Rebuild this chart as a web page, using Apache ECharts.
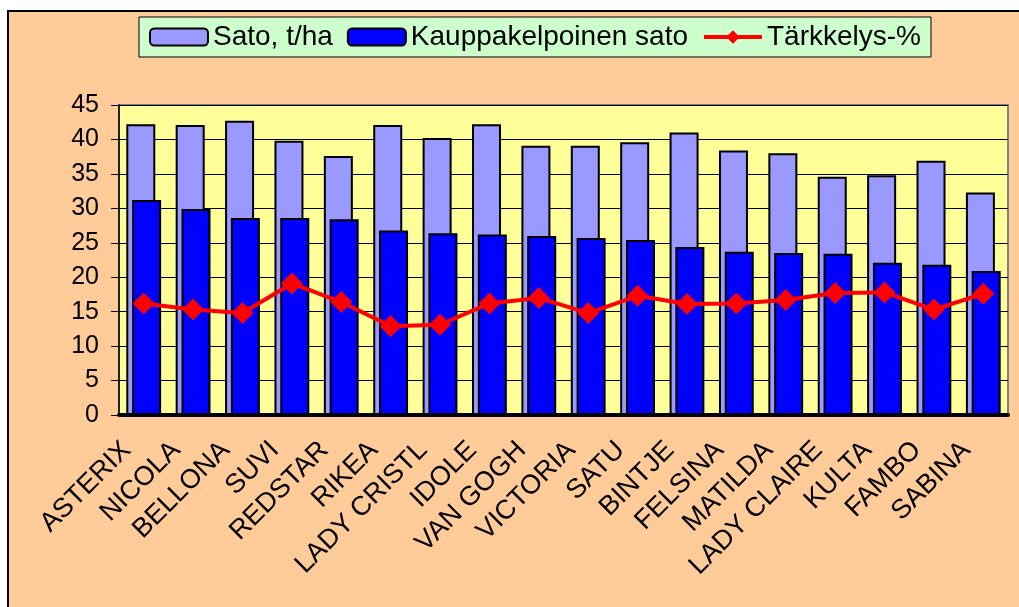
<!DOCTYPE html>
<html>
<head>
<meta charset="utf-8">
<script src="https://cdn.jsdelivr.net/npm/echarts@6/dist/echarts.min.js"></script>
<style>
  html, body { margin: 0; padding: 0; background: #fff; }
  #chart { width: 1019px; height: 607px; }
</style>
</head>
<body>
<div id="chart"></div>
<script>
var lajikkeet = ['ASTERIX', 'NICOLA', 'BELLONA', 'SUVI', 'REDSTAR', 'RIKEA', 'LADY CRISTL', 'IDOLE', 'VAN GOGH',
  'VICTORIA', 'SATU', 'BINTJE', 'FELSINA', 'MATILDA', 'LADY CLAIRE', 'KULTA', 'FAMBO', 'SABINA'];
var sato = [42.2, 42.1, 42.7, 39.8, 37.6, 42.1, 40.2, 42.2, 39.1, 39.1, 39.6, 41.0, 38.4, 38.0, 34.6, 34.8, 36.9, 32.3];
var kauppa = [31.2, 29.9, 28.6, 28.6, 28.4, 26.8, 26.4, 26.2, 26.0, 25.7, 25.4, 24.4, 23.7, 23.5, 23.4, 22.1, 21.8, 20.9];
var tarkkelys = [16.2, 15.3, 14.8, 19.1, 16.4, 12.9, 13.1, 16.2, 17.0, 14.8, 17.3, 16.1, 16.2, 16.7, 17.7, 17.8, 15.3, 17.6];
var yTicks = [0, 5, 10, 15, 20, 25, 30, 35, 40, 45];

var font = 'Liberation Sans, Arial, sans-serif';
var chart = echarts.init(document.getElementById('chart'));

var option = {
  backgroundColor: '#FFCC99',
  animation: false,
  graphic: [
    { type: 'rect', shape: { x: 0, y: 0, width: 1019, height: 11 }, style: { fill: '#fff' }, silent: true },
    { type: 'rect', shape: { x: 0, y: 0, width: 8, height: 607 }, style: { fill: '#fff' }, silent: true },
    { type: 'polyline', shape: { points: [[8, 607], [8, 11], [1019, 11]] }, style: { stroke: '#000', lineWidth: 2, fill: null }, silent: true }
  ],
  legend: {
    left: 139,
    top: 17,
    padding: [6, 10, 6, 10],
    itemGap: 14,
    itemWidth: 58,
    itemHeight: 17,
    backgroundColor: '#CCFFCC',
    borderColor: '#000',
    borderWidth: 1,
    textStyle: { fontFamily: font, fontSize: 28, color: '#000' },
    data: ['Sato, t/ha', 'Kauppakelpoinen sato', { name: 'Tärkkelys-%', lineStyle: { width: 4 } }]
  },
  grid: {
    left: 119,
    top: 105,
    width: 889,
    height: 310,
    show: true,
    backgroundColor: '#FFFF99',
    borderColor: '#808080',
    borderWidth: 2
  },
  xAxis: {
    type: 'category',
    data: lajikkeet,
    axisLine: { lineStyle: { color: '#000', width: 4 } },
    axisTick: { show: false },
    axisLabel: {
      interval: 0,
      rotate: 45,
      margin: 14,
      padding: [0, 24, 0, 0],
      fontFamily: font,
      fontSize: 27,
      color: '#000'
    }
  },
  yAxis: {
    type: 'value',
    min: yTicks[0],
    max: yTicks[yTicks.length - 1],
    interval: 5,
    axisLine: { show: true, lineStyle: { color: '#000', width: 1.5 } },
    axisTick: { show: true, length: 8, lineStyle: { color: '#000' } },
    axisLabel: { margin: 20, fontFamily: font, fontSize: 25, color: '#000' },
    splitLine: { lineStyle: { color: '#000', width: 1 } }
  },
  series: [
    {
      name: 'Sato, t/ha',
      type: 'bar',
      data: sato,
      barWidth: 29,
      barGap: '-80%',
      itemStyle: { color: '#9999FF', borderColor: '#000', borderWidth: 2 }
    },
    {
      name: 'Kauppakelpoinen sato',
      type: 'bar',
      data: kauppa,
      barWidth: 29,
      barGap: '-80%',
      itemStyle: { color: '#0000FF', borderColor: '#000', borderWidth: 2 }
    },
    {
      name: 'Tärkkelys-%',
      type: 'line',
      data: tarkkelys,
      symbol: 'diamond',
      symbolSize: [22, 22],
      z: 5,
      lineStyle: { color: '#FF0000', width: 4 },
      itemStyle: { color: '#FF0000' }
    }
  ]
};

chart.setOption(option);
</script>
</body>
</html>
